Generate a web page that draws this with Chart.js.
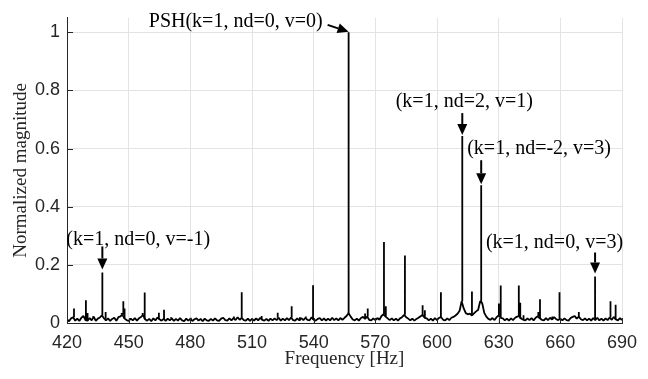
<!DOCTYPE html>
<html><head><meta charset="utf-8">
<script src="https://cdn.jsdelivr.net/npm/chart.js@4.4.1/dist/chart.umd.min.js"></script>
<style>html,body{margin:0;padding:0;background:#fff;}#wrap{width:648px;height:379px;}</style>
</head><body><div id="wrap"><canvas id="c" width="648" height="379"></canvas></div>
<script>
// ---------- data ----------
const xTickValues = [420, 450, 480, 510, 540, 570, 600, 630, 660, 690];
const yTickValues = [0, 0.2, 0.4, 0.6, 0.8, 1];
const yTickLabels = ['0', '0.2', '0.4', '0.6', '0.8', '1'];

// noise floor, one value per Hz from 420 Hz to 690 Hz
const floorFreqStart = 420;
const floorMag = [
  0.012,0.006,0.016,0.020,0.008,0.015,0.007,0.018,0.024,0.010,
  0.008,0.017,0.009,0.022,0.007,0.015,0.019,0.026,0.016,0.009,
  0.016,0.007,0.014,0.018,0.008,0.020,0.023,0.028,0.015,0.010,
  0.007,0.015,0.009,0.017,0.008,0.016,0.021,0.027,0.013,0.008,
  0.014,0.006,0.016,0.009,0.019,0.013,0.008,0.014,0.007,0.015,
  0.009,0.016,0.007,0.014,0.008,0.017,0.009,0.006,0.015,0.008,
  0.014,0.007,0.013,0.016,0.008,0.014,0.006,0.015,0.009,0.007,
  0.014,0.008,0.016,0.009,0.007,0.015,0.018,0.010,0.008,0.016,
  0.009,0.017,0.010,0.020,0.011,0.018,0.010,0.008,0.015,0.007,
  0.014,0.008,0.016,0.009,0.018,0.011,0.008,0.014,0.007,0.015,
  0.009,0.016,0.010,0.018,0.008,0.015,0.009,0.017,0.010,0.019,
  0.010,0.008,0.016,0.009,0.017,0.010,0.018,0.011,0.009,0.020,
  0.011,0.008,0.014,0.017,0.009,0.016,0.008,0.015,0.009,0.018,
  0.010,0.016,0.009,0.017,0.011,0.018,0.024,0.034,0.022,0.012,
  0.009,0.015,0.008,0.017,0.021,0.014,0.022,0.011,0.009,0.016,
  0.010,0.017,0.011,0.024,0.030,0.022,0.016,0.010,0.016,0.009,
  0.015,0.008,0.016,0.020,0.028,0.020,0.015,0.009,0.015,0.008,
  0.014,0.018,0.023,0.027,0.018,0.016,0.009,0.015,0.008,0.017,
  0.010,0.018,0.020,0.011,0.009,0.016,0.010,0.018,0.021,0.026,
  0.032,0.042,0.075,0.050,0.034,0.030,0.032,0.026,0.033,0.040,
  0.045,0.075,0.068,0.035,0.022,0.014,0.011,0.017,0.010,0.020,
  0.026,0.018,0.016,0.009,0.015,0.008,0.016,0.010,0.018,0.022,
  0.024,0.015,0.011,0.009,0.016,0.010,0.017,0.009,0.018,0.023,
  0.016,0.011,0.009,0.017,0.010,0.018,0.012,0.020,0.013,0.010,
  0.015,0.009,0.016,0.010,0.008,0.017,0.021,0.024,0.015,0.022,
  0.013,0.010,0.016,0.009,0.015,0.008,0.017,0.010,0.018,0.009,
  0.015,0.008,0.016,0.010,0.019,0.011,0.021,0.012,0.009,0.017,0.010
];

// spectral peaks [Hz] and their normalized magnitudes
const peakFreq = [423.4,429.2,430.0,432.6,437.2,438.8,446.6,447.4,448.0,456.8,457.8,464.7,467.2,470.6,480.2,492.3,501.2,505.0,514.7,522.5,529.3,533.3,536.2,539.7,557.0,565.0,566.3,574.2,575.1,584.4,593.0,594.1,601.9,612.3,617.0,621.5,630.1,631.0,639.8,640.5,642.1,649.3,650.1,656.1,659.6,667.9,669.0,676.9,684.4,686.9];
const peakMag  = [0.050,0.078,0.034,0.024,0.174,0.038,0.034,0.075,0.050,0.034,0.105,0.035,0.046,0.020,0.018,0.017,0.022,0.106,0.024,0.035,0.058,0.020,0.022,0.130,1.000,0.033,0.050,0.279,0.058,0.232,0.061,0.044,0.106,0.643,0.108,0.474,0.067,0.129,0.129,0.070,0.027,0.038,0.082,0.022,0.106,0.021,0.038,0.160,0.075,0.063];

// annotations
const annoText = ['PSH(k=1, nd=0, v=0)', '(k=1, nd=0, v=-1)', '(k=1, nd=2, v=1)', '(k=1, nd=-2, v=3)', '(k=1, nd=0, v=3)'];
const annoFreq = [557.0, 437.2, 612.3, 621.5, 676.9];
const annoMag  = [1.000, 0.174, 0.643, 0.474, 0.160];

// ---------- layout of annotations (pixel offsets from the peak top) ----------
const annoLayout = [
  {tx:-26, ty:-11, align:'right',  a0:[-21,-7.5], a1:[0,-0.5]},
  {tx:-36, ty:-33, align:'left',   a0:[0,-26],    a1:[0,-3]},
  {tx:2,   ty:-34, align:'center', a0:[0,-23],    a1:[0,-1]},
  {tx:-14, ty:-36, align:'left',   a0:[0,-25],    a1:[0,-1]},
  {tx:28,  ty:-34, align:'right',  a0:[0,-24],    a1:[0,-3]}
];

const floorData = floorMag.map((v, i) => ({x: floorFreqStart + i, y: v}));
const spikeData = [];
peakFreq.forEach((f, i) => {
  const base = floorMag[Math.round(f) - floorFreqStart];
  spikeData.push({x: f, y: base}, {x: f, y: peakMag[i]}, {x: f, y: null});
});

function drawArrow(ctx, x0, y0, x1, y1) {
  const ang = Math.atan2(y1 - y0, x1 - x0);
  const hl = 11, hw = 5;
  const bx = x1 - Math.cos(ang) * hl, by = y1 - Math.sin(ang) * hl;
  ctx.beginPath(); ctx.moveTo(x0, y0); ctx.lineTo(bx, by); ctx.stroke();
  ctx.beginPath();
  ctx.moveTo(x1, y1);
  ctx.lineTo(bx + Math.sin(ang) * hw, by - Math.cos(ang) * hw);
  ctx.lineTo(bx - Math.sin(ang) * hw, by + Math.cos(ang) * hw);
  ctx.closePath(); ctx.fill();
}

const decoPlugin = {
  id: 'deco',
  afterDatasetsDraw(chart) {
    const {ctx, chartArea: ca, scales: {x, y}} = chart;
    ctx.save();
    ctx.strokeStyle = '#262626'; ctx.lineWidth = 1;
    xTickValues.forEach(v => {
      const px = Math.round(x.getPixelForValue(v)) + 0.5;
      ctx.beginPath(); ctx.moveTo(px, ca.bottom); ctx.lineTo(px, ca.bottom - 5); ctx.stroke();
    });
    yTickValues.forEach(v => {
      const py = Math.round(y.getPixelForValue(v)) + 0.5;
      ctx.beginPath(); ctx.moveTo(ca.left, py); ctx.lineTo(ca.left + 6, py); ctx.stroke();
    });
    ctx.fillStyle = '#000'; ctx.strokeStyle = '#000'; ctx.lineWidth = 2;
    ctx.font = '20px "Liberation Serif", "Times New Roman", serif';
    ctx.textBaseline = 'middle';
    annoText.forEach((t, i) => {
      const px = x.getPixelForValue(annoFreq[i]);
      const py = y.getPixelForValue(annoMag[i]);
      const L = annoLayout[i];
      ctx.textAlign = L.align;
      ctx.fillText(t, px + L.tx, py + L.ty);
      drawArrow(ctx, px + L.a0[0], py + L.a0[1], px + L.a1[0], py + L.a1[1]);
    });
    ctx.restore();
  }
};

new Chart(document.getElementById('c'), {
  type: 'scatter',
  data: {
    datasets: [
      {data: floorData, showLine: true, pointRadius: 0, borderColor: '#000', borderWidth: 1.8, tension: 0, borderJoinStyle: 'bevel'},
      {data: spikeData, showLine: true, pointRadius: 0, borderColor: '#000', borderWidth: 1.8, tension: 0, spanGaps: false, borderCapStyle: 'butt'}
    ]
  },
  options: {
    responsive: false, animation: false, events: [],
    layout: {padding: {top: 13, right: 26, left: 0, bottom: 0}},
    plugins: {legend: {display: false}, tooltip: {enabled: false}},
    scales: {
      x: {
        type: 'linear', min: 420, max: 690,
        afterBuildTicks: s => { s.ticks = xTickValues.map(v => ({value: v})); },
        afterFit: s => { s.height = 56; },
        grid: {color: '#e3e3e3', lineWidth: 1, drawTicks: false},
        border: {display: true, color: '#262626', width: 1},
        ticks: {color: '#262626', padding: 9, maxRotation: 0, font: {family: '"Liberation Sans", Arial, sans-serif', size: 18}, callback: v => String(v)},
        title: {display: true, text: 'Frequency [Hz]', color: '#262626', padding: {top: 0, bottom: 9}, font: {family: '"Liberation Serif", "Times New Roman", serif', size: 19}}
      },
      y: {
        type: 'linear', min: 0, max: 1.05,
        afterBuildTicks: s => { s.ticks = yTickValues.map(v => ({value: v})); },
        afterFit: s => { s.width = 67; },
        grid: {color: '#e3e3e3', lineWidth: 1, drawTicks: false},
        border: {display: true, color: '#262626', width: 1},
        ticks: {color: '#262626', padding: 7, font: {family: '"Liberation Sans", Arial, sans-serif', size: 18}, callback: v => yTickLabels[yTickValues.indexOf(v)] ?? String(v)},
        title: {display: true, text: 'Normalized magnitude', color: '#262626', padding: {top: 10, bottom: 0}, font: {family: '"Liberation Serif", "Times New Roman", serif', size: 19}}
      }
    }
  },
  plugins: [decoPlugin]
});
</script></body></html>
